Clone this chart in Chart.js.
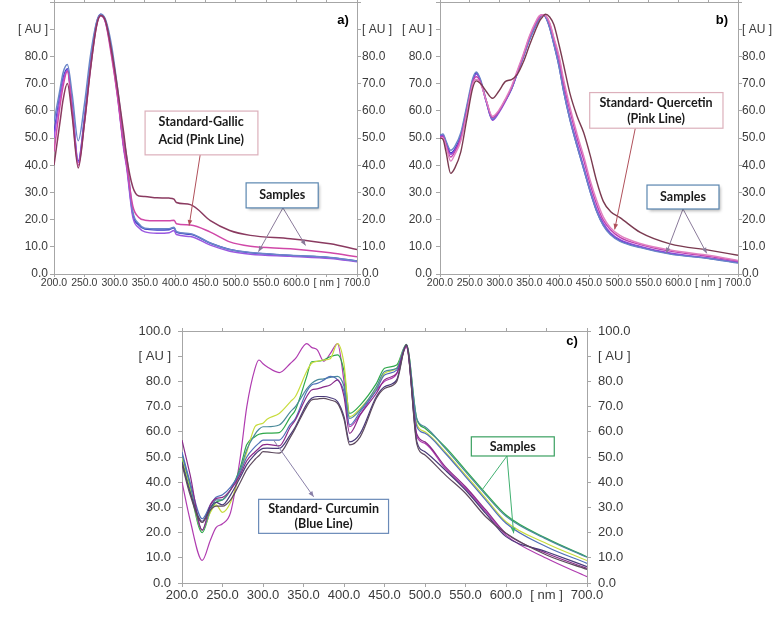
<!DOCTYPE html>
<html>
<head>
<meta charset="utf-8">
<script src="https://cdn.jsdelivr.net/npm/chart.js@4.4.1/dist/chart.umd.min.js"></script>
<style>
html, body { margin: 0; padding: 0; background: #fff; }
#wrap { position: relative; width: 778px; height: 619px; overflow: hidden; background: #fff; }
canvas { position: absolute; }
</style>
</head>
<body>
<div id="wrap">
  <canvas id="chartA" width="395" height="300" style="left:0;top:0"></canvas>
  <canvas id="chartB" width="388" height="300" style="left:390px;top:0"></canvas>
  <canvas id="chartC" width="520" height="319" style="left:130px;top:300px"></canvas>
</div>
<script>
// ---- panel a) gallic acid ----
const A_NM = [200, 210, 215, 222, 230, 240, 250, 260, 270, 277, 285, 295, 305, 315, 320, 330, 340, 350, 370, 390, 398, 402, 425, 458, 490, 524, 590, 656, 700];
const A_STEEL  = [56, 68, 74, 77, 66, 49, 62, 80, 92.4, 95.5, 93.6, 84, 68, 50, 43, 23, 18.5, 16.8, 16.6, 16.6, 17.2, 15.6, 14.8, 11.4, 9, 7.9, 6.9, 6.1, 4.8];
const A_BLUE   = [52, 66, 72, 75.5, 62, 41.5, 57, 77, 92, 95.5, 93, 82, 66, 47, 40, 22, 18, 16.5, 16.2, 16.3, 17, 15.4, 14.6, 11.3, 9, 7.8, 6.8, 6, 4.8];
const A_VIOLET = [50, 65, 71, 75, 61, 41, 56, 76, 91.5, 95, 92.5, 81, 65, 46, 39, 21, 17, 15.5, 15, 15.2, 16, 14.5, 13.8, 10.6, 8.4, 7.3, 6.5, 5.7, 4.5];
const A_GALLIC = [45, 62, 69, 74.5, 60, 40, 55, 75, 91, 95, 92.5, 80, 65, 47, 40, 25, 20.8, 19.8, 19.6, 19.6, 19.8, 18.5, 18, 15.4, 11.8, 10.2, 9.3, 7.8, 6.3];
const A_MAROON = [40, 56, 64, 70, 58, 39, 55, 75, 91, 95, 93, 82, 68, 52, 43, 32, 28.7, 28.5, 28, 27.9, 27.5, 26.3, 25.5, 19.6, 16, 14.2, 13, 11.1, 9];

// ---- panel b) quercetin ----
const B_NM = [200, 205, 210, 218, 225, 235, 245, 255, 261, 268, 278, 288, 298, 310, 320, 330, 340, 350, 360, 367, 372, 377, 384, 391, 400, 407, 418, 430, 441, 452, 463, 474, 486, 502, 536, 586, 653, 700];
const B_STEEL  = [51, 51.5, 49, 45.5, 47, 52, 62, 72, 74.3, 71.5, 63.5, 57, 59.5, 64, 68, 74, 80, 86, 91, 94, 95.3, 94.5, 90.5, 84.5, 76, 67.6, 56.8, 47, 38.7, 30.3, 23, 17.8, 14.4, 12, 9.7, 7.3, 5.6, 4];
const B_BLUE   = [51, 51, 48.5, 44.5, 46, 51, 61, 71, 74, 71, 63, 56.8, 59.5, 64, 68, 74, 80, 86, 91, 94, 95.3, 94.5, 90.5, 84.5, 76, 67.6, 56.8, 47, 38.7, 30.3, 23, 18, 14.7, 12.3, 9.9, 7.5, 5.7, 4.2];
const B_VIOLET = [50.5, 51, 48, 44, 45.5, 50.5, 60.5, 71, 73.5, 71, 63, 56.5, 59, 63.5, 68, 74, 80, 86.5, 91.5, 94.5, 95.3, 94.8, 91, 85, 77, 68.5, 57.5, 48, 39.5, 31, 23.8, 18.7, 15.2, 12.6, 10.1, 7.7, 5.8, 4.3];
const B_QUERC  = [50.5, 50.5, 47.5, 43, 45, 50, 60, 70.5, 72.5, 70.5, 63.5, 57.5, 59.5, 64, 68.5, 74.5, 80.5, 87, 92, 94.5, 95.3, 95, 92, 86.5, 79, 70.5, 60, 50, 42, 33, 25.5, 19.8, 16.3, 13.5, 10.8, 8.4, 6.4, 4.8];
const B_PINK   = [50, 50, 47, 41.5, 44, 49, 59, 70, 71.5, 70, 63.5, 58, 60, 64.5, 69, 75, 81, 87.5, 92.5, 95, 95.3, 95, 92.5, 87, 80, 72, 61.5, 51.5, 43.5, 34.5, 27, 21, 17, 14.2, 11.2, 8.8, 6.8, 5];
const B_MAROON = [50, 49.5, 45, 37, 39, 45, 57, 68.5, 71, 70, 67, 64.6, 67, 70.8, 71.5, 73.5, 78, 84, 89.5, 93, 94.5, 95.5, 94.5, 91.7, 84, 77.3, 66.4, 58, 52, 43.6, 34, 26.7, 23, 20.7, 15.3, 11.1, 8.7, 6.9];

// ---- panel c) curcumin ----
const C_NM = [200, 210, 225, 235, 242, 250, 260, 272, 280, 290, 295, 300, 305, 320, 334, 340, 354, 360, 367, 375, 383, 392, 400, 407, 420, 440, 450, 465, 477, 490, 500, 525, 550, 575, 600, 650, 700];
const C_MAGENTA = [40, 25, 9, 17, 22, 23.5, 28, 50, 70, 85, 88.5, 87, 85.8, 83.5, 87.2, 89, 95, 93.5, 92.5, 88, 91, 95, 80, 62, 67, 76.5, 80, 83, 93.5, 58, 55.4, 45.5, 37.6, 28.3, 19, 9.8, 2.5];
const C_YELLOW  = [50, 38, 21, 28, 31, 28, 32, 44, 52, 62, 63, 63.4, 65, 67.3, 72, 74, 84, 87.2, 88, 88.5, 89, 95, 87, 66, 69.3, 77.2, 83.2, 85.2, 94.5, 63, 60, 52, 42.9, 33.6, 24.3, 15.7, 8.9];
const C_GREEN   = [49, 37, 20, 28.5, 32, 33, 37, 46, 55, 58, 59, 59.4, 59.5, 59.7, 66, 68.7, 82, 87.8, 88, 88.5, 89.8, 90.5, 84, 67.3, 70.6, 79.2, 85.2, 86.5, 94.7, 65, 61.4, 54, 44.8, 35.6, 27, 17.7, 10.4];
const C_TEAL    = [51, 39, 21, 29, 33, 33, 37, 45, 53, 59, 61, 62, 62, 62.7, 68, 70, 77, 79.2, 80.6, 81, 81.6, 82, 78, 65.3, 68.7, 77.9, 83.9, 85.2, 94.5, 65, 62, 53.4, 44.2, 35, 26.5, 17.4, 10.2];
const C_BLUE    = [52, 40, 25.5, 31, 34, 35, 38, 44, 50, 54, 55.5, 56.7, 56.7, 56.7, 63, 65.3, 76, 78.6, 79.2, 80.5, 82, 80.6, 76, 62.7, 68, 76.6, 82.5, 84.5, 94.5, 62, 59.4, 51.5, 42.2, 32.9, 23.7, 14.4, 7.8];
const C_PURPLE  = [56.7, 43, 21, 31, 33.5, 34, 37, 43, 48.5, 52, 53.5, 54.8, 55, 54.4, 62, 64.7, 74, 76.6, 77, 77.8, 78.6, 80.6, 74, 59.4, 66.7, 75.3, 80.6, 83.2, 94, 59, 56, 46.2, 38.2, 29, 19.7, 11.8, 5.8];
const C_DARK    = [48, 36, 24.5, 30, 32, 31, 35, 42, 47, 51, 52.5, 53.4, 53.5, 53.4, 59, 62, 71, 73.3, 74, 74, 73.5, 72, 66, 56, 59.4, 74, 77.9, 80.6, 94.5, 56, 52.1, 44.8, 36.9, 27.6, 18.4, 12.4, 6.5];
const C_BROWN   = [47, 35, 24, 29, 30.5, 30.5, 33, 40, 45, 49, 50.5, 52.1, 52, 51.5, 58, 61.4, 70, 72.6, 73, 73.3, 72.6, 71.3, 65, 54.8, 58, 73.3, 77.2, 79.9, 94.5, 55, 50.8, 42.9, 35.6, 26.3, 19.7, 11.1, 5.4];

Chart.defaults.font.family = '"Liberation Sans", Arial, sans-serif';
Chart.defaults.color = '#3a3a3a';
Chart.defaults.animation = false;

const FRAME = '#a6a6a6';

function pts(nm, vals) {
    return nm.map((x, i) => ({ x: x, y: vals[i] }));
}

function line(nm, vals, color, width) {
    return {
        data: pts(nm, vals),
        borderColor: color,
        borderWidth: width,
        pointRadius: 0,
        fill: false,
        cubicInterpolationMode: 'monotone'
    };
}

function yLabel(showTop) {
    return function (v) {
        if (v === 90) return '[ AU ]';
        if (v === 100) return showTop ? '100.0' : '';
        return v.toFixed(1);
    };
}

function xLabel(v) {
    return v === 650 ? '[ nm ]' : v.toFixed(1);
}

function buildScales(o) {
    const border = { color: FRAME, width: 1 };
    const yTicks = { stepSize: 10, padding: o.yPad, font: { size: o.yFont }, callback: yLabel(o.showTop) };
    return {
        x: {
            type: 'linear', min: 200, max: 700, border: border,
            grid: { drawOnChartArea: false, color: FRAME, tickLength: o.xTick },
            ticks: { stepSize: 50, autoSkip: false, maxRotation: 0, padding: o.xPad, font: { size: o.xFont }, callback: xLabel },
            afterFit: s => { s.height = o.bottom; s.paddingLeft = 0; s.paddingRight = 0; }
        },
        xTop: {
            type: 'linear', position: 'top', min: 200, max: 700, border: border,
            grid: { drawOnChartArea: false, color: FRAME, tickLength: 3 },
            ticks: { stepSize: 50, display: false },
            afterFit: s => { s.height = o.top; s.paddingLeft = 0; s.paddingRight = 0; }
        },
        y: {
            min: 0, max: 100, position: 'left', border: border,
            grid: { drawOnChartArea: false, color: FRAME, tickLength: 4 },
            ticks: yTicks,
            afterFit: s => { s.width = o.left; s.paddingTop = 0; s.paddingBottom = 0; }
        },
        yRight: {
            min: 0, max: 100, position: 'right', border: border,
            grid: { drawOnChartArea: false, color: FRAME, tickLength: 4 },
            ticks: { ...yTicks, padding: o.yPadR },
            afterFit: s => { s.width = o.right; s.paddingTop = 0; s.paddingBottom = 0; }
        }
    };
}

// call-out boxes, arrows and panel letter, placed in data units
function notesPlugin(notes) {
    return {
        id: 'notes',
        afterDatasetsDraw(chart) {
            const ctx = chart.ctx;
            const px = v => chart.scales.x.getPixelForValue(v);
            const py = v => chart.scales.y.getPixelForValue(v);
            ctx.save();
            notes.arrows.forEach(a => {
                const x1 = px(a.from[0]), y1 = py(a.from[1]);
                const x2 = px(a.to[0]), y2 = py(a.to[1]);
                ctx.strokeStyle = a.color;
                ctx.fillStyle = a.color;
                ctx.lineWidth = 1;
                ctx.beginPath();
                ctx.moveTo(x1, y1);
                ctx.lineTo(x2, y2);
                ctx.stroke();
                if (a.head) {
                    const ang = Math.atan2(y2 - y1, x2 - x1);
                    ctx.beginPath();
                    ctx.moveTo(x2, y2);
                    ctx.lineTo(x2 - 6 * Math.cos(ang - 0.4), y2 - 6 * Math.sin(ang - 0.4));
                    ctx.lineTo(x2 - 6 * Math.cos(ang + 0.4), y2 - 6 * Math.sin(ang + 0.4));
                    ctx.closePath();
                    ctx.fill();
                }
            });
            notes.boxes.forEach(b => {
                const x = px(b.x1), y = py(b.y1);
                const w = px(b.x2) - x, h = py(b.y2) - y;
                ctx.save();
                if (b.shadow) {
                    ctx.shadowColor = 'rgba(0,0,0,0.3)';
                    ctx.shadowBlur = 3;
                    ctx.shadowOffsetX = 2;
                    ctx.shadowOffsetY = 2;
                }
                ctx.fillStyle = '#fff';
                ctx.fillRect(x, y, w, h);
                ctx.restore();
                ctx.strokeStyle = b.stroke;
                ctx.lineWidth = 1.2;
                ctx.strokeRect(x, y, w, h);
                ctx.fillStyle = '#1a1a1a';
                ctx.font = 'bold 12.5px Lato, "Open Sans", sans-serif';
                ctx.textAlign = 'center';
                ctx.textBaseline = 'middle';
                b.lines.forEach(t => ctx.fillText(t[0], px(t[1]), py(t[2])));
            });
            ctx.fillStyle = '#000';
            ctx.font = 'bold 13px "Liberation Sans", Arial, sans-serif';
            ctx.textAlign = 'center';
            ctx.textBaseline = 'middle';
            ctx.fillText(notes.tag[0], px(notes.tag[1]), py(notes.tag[2]));
            ctx.restore();
        }
    };
}

const NOTES_A = {
    boxes: [
        { x1: 350.3, x2: 536.5, y1: 59.9, y2: 43.8, stroke: '#dcb0bb',
          lines: [['Standard-Gallic', 442.8, 55.9], ['Acid (Pink Line)', 442.8, 49.3]] },
        { x1: 517, x2: 636, y1: 33.5, y2: 24.3, stroke: '#5a86b0', shadow: true,
          lines: [['Samples', 576.6, 28.9]] }
    ],
    arrows: [
        { from: [441.2, 43.8], to: [423, 17.8], color: '#b0505a', head: true },
        { from: [577.8, 24.3], to: [537.5, 8.2], color: '#8a7a9a', head: true },
        { from: [577.8, 24.3], to: [615, 10.5], color: '#8a7a9a', head: true }
    ],
    tag: ['a)', 677, 93.4]
};

const NOTES_B = {
    boxes: [
        { x1: 451.2, x2: 674.8, y1: 66.7, y2: 53.6, stroke: '#dcb0bb',
          lines: [['Standard- Quercetin', 562.4, 62.9], ['(Pink Line)', 562.4, 57]] },
        { x1: 547.3, x2: 668.1, y1: 32.7, y2: 23.9, stroke: '#5a86b0', shadow: true,
          lines: [['Samples', 607.7, 28.3]] }
    ],
    arrows: [
        { from: [527.7, 53.6], to: [493.1, 16.4], color: '#b0505a', head: true },
        { from: [607.7, 23.9], to: [579.6, 7.6], color: '#8a7a9a', head: true },
        { from: [607.7, 23.9], to: [647.5, 7.6], color: '#8a7a9a', head: true }
    ],
    tag: ['b)', 673, 93.4]
};

const NOTES_C = {
    boxes: [
        { x1: 294.6, x2: 455, y1: 33.2, y2: 19.7, stroke: '#6a8ab8',
          lines: [['Standard- Curcumin', 374.8, 29.2], ['(Blue Line)', 374.8, 23.3]] },
        { x1: 557.2, x2: 659.6, y1: 58, y2: 50.4, stroke: '#3aa060',
          lines: [['Samples', 608.4, 54.1]] }
    ],
    arrows: [
        { from: [313.1, 56.7], to: [362.5, 34.2], color: '#8a80a8', head: true },
        { from: [601.2, 50.4], to: [570.4, 36.9], color: '#40b070', head: false },
        { from: [601.2, 50.4], to: [609.4, 19.7], color: '#40b070', head: true }
    ],
    tag: ['c)', 681.5, 95.8]
};

const commonPlugins = { legend: { display: false }, tooltip: { enabled: false } };

new Chart(document.getElementById('chartA'), {
    type: 'line',
    data: {
        datasets: [
            line(A_NM, A_MAROON, '#8a3a60', 1.5),
            line(A_NM, A_GALLIC, '#d048a8', 1.5),
            line(A_NM, A_STEEL, '#6a86c8', 1.5),
            line(A_NM, A_VIOLET, '#9a58e0', 1.5),
            line(A_NM, A_BLUE, '#3a3ac8', 1.5)
        ]
    },
    options: {
        responsive: false,
        layout: { padding: 0 },
        plugins: commonPlugins,
        scales: buildScales({ left: 54, right: 38, top: 2, bottom: 26, xTick: 3, xPad: 0, xFont: 10.5, yFont: 12, yPad: 2, yPadR: 1, showTop: false })
    },
    plugins: [notesPlugin(NOTES_A)]
});

new Chart(document.getElementById('chartB'), {
    type: 'line',
    data: {
        datasets: [
            line(B_NM, B_MAROON, '#7a3a50', 1.4),
            line(B_NM, B_PINK, '#e080c0', 1.4),
            line(B_NM, B_QUERC, '#c040b0', 1.4),
            line(B_NM, B_STEEL, '#6a86c8', 1.4),
            line(B_NM, B_VIOLET, '#8a48d8', 1.4),
            line(B_NM, B_BLUE, '#3a3ac0', 1.4)
        ]
    },
    options: {
        responsive: false,
        layout: { padding: 0 },
        plugins: commonPlugins,
        scales: buildScales({ left: 50, right: 40, top: 2, bottom: 26, xTick: 3, xPad: 0, xFont: 10.5, yFont: 12, yPad: 4, yPadR: 0, showTop: false })
    },
    plugins: [notesPlugin(NOTES_B)]
});

new Chart(document.getElementById('chartC'), {
    type: 'line',
    data: {
        datasets: [
            line(C_NM, C_BROWN, '#5e4a5e', 1.2),
            line(C_NM, C_DARK, '#4a3a7a', 1.2),
            line(C_NM, C_PURPLE, '#8a2a8a', 1.2),
            line(C_NM, C_BLUE, '#5070b8', 1.2),
            line(C_NM, C_TEAL, '#4a8a9a', 1.2),
            line(C_NM, C_YELLOW, '#c8dc3c', 1.2),
            line(C_NM, C_GREEN, '#2ea84a', 1.2),
            line(C_NM, C_MAGENTA, '#b03cb0', 1.2)
        ]
    },
    options: {
        responsive: false,
        layout: { padding: 0 },
        plugins: commonPlugins,
        scales: buildScales({ left: 52, right: 63, top: 31, bottom: 36, xTick: 4, xPad: 1, xFont: 13, yFont: 13, yPad: 7, yPadR: 7, showTop: true })
    },
    plugins: [notesPlugin(NOTES_C)]
});
</script>
</body>
</html>
